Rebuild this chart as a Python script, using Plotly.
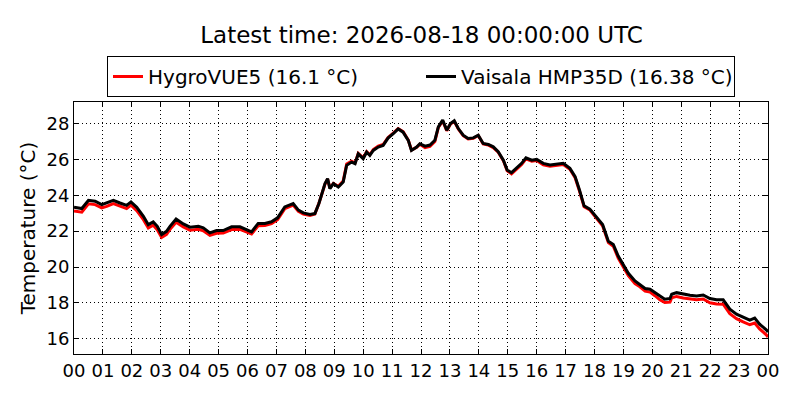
import pandas as pd
import plotly.graph_objects as go

# hours after 2026-08-17 00:00 UTC
hours = [0.00, 0.27, 0.50, 0.73, 0.96, 1.13, 1.36, 1.59, 1.82, 1.97, 2.17, 2.40, 2.57, 2.74, 2.88,
         3.03, 3.20, 3.32, 3.53, 3.78, 4.01, 4.30, 4.47, 4.70, 4.93, 5.16, 5.45, 5.74, 6.03, 6.14,
         6.37, 6.60, 6.83, 7.04, 7.29, 7.58, 7.76, 7.93, 8.16, 8.33, 8.47, 8.59, 8.68, 8.77, 8.85,
         8.97, 9.14, 9.31, 9.43, 9.60, 9.72, 9.83, 10.00, 10.12, 10.23, 10.35, 10.52, 10.69, 10.86,
         11.04, 11.21, 11.38, 11.56, 11.67, 11.85, 11.96, 12.14, 12.31, 12.48, 12.60, 12.75, 12.89,
         13.02, 13.15, 13.29, 13.46, 13.63, 13.81, 13.98, 14.15, 14.33, 14.50, 14.67, 14.85, 14.98,
         15.13, 15.31, 15.48, 15.63, 15.83, 16.00, 16.23, 16.46, 16.69, 16.92, 17.15, 17.33, 17.48,
         17.64, 17.84, 18.07, 18.28, 18.48, 18.65, 18.82, 19.00, 19.17, 19.40, 19.57, 19.75, 19.92,
         20.09, 20.26, 20.43, 20.61, 20.67, 20.84, 21.07, 21.30, 21.53, 21.76, 21.99, 22.22, 22.45,
         22.68, 22.91, 23.14, 23.37, 23.54, 23.71, 23.94, 24.00]

hygrovue = [23.13, 23.06, 23.52, 23.48, 23.30, 23.38, 23.54, 23.40, 23.26, 23.45, 23.14, 22.64, 22.18,
            22.33, 22.08, 21.65, 21.82, 22.10, 22.50, 22.24, 22.05, 22.10, 22.02, 21.76, 21.88, 21.89,
            22.09, 22.10, 21.92, 21.84, 22.30, 22.31, 22.42, 22.64, 23.25, 23.45, 23.10, 22.95, 22.88,
            22.95, 23.55, 24.22, 24.62, 24.90, 24.40, 24.66, 24.50, 24.80, 25.75, 25.90, 25.80, 26.33,
            26.08, 26.43, 26.26, 26.55, 26.74, 26.83, 27.22, 27.46, 27.72, 27.55, 27.08, 26.52, 26.68,
            26.84, 26.66, 26.72, 27.00, 27.78, 28.14, 27.60, 27.97, 28.12, 27.70, 27.32, 27.14, 27.18,
            27.33, 26.86, 26.80, 26.66, 26.40, 25.92, 25.36, 25.20, 25.44, 25.72, 26.03, 25.90, 25.94,
            25.70, 25.62, 25.66, 25.72, 25.45, 24.98, 24.24, 23.36, 23.18, 22.74, 22.30, 21.36, 21.16,
            20.50, 20.03, 19.52, 19.08, 18.90, 18.65, 18.60, 18.40, 18.17, 18.02, 18.04, 18.28, 18.36,
            18.27, 18.22, 18.17, 18.22, 18.01, 17.94, 17.93, 17.40, 17.12, 16.94, 16.78, 16.88, 16.55,
            16.22, 16.10]

vaisala = [23.33, 23.26, 23.72, 23.67, 23.48, 23.57, 23.72, 23.57, 23.44, 23.63, 23.33, 22.83, 22.36,
           22.51, 22.27, 21.81, 21.99, 22.27, 22.68, 22.40, 22.22, 22.27, 22.18, 21.90, 22.03, 22.03,
           22.24, 22.24, 22.05, 21.96, 22.43, 22.43, 22.52, 22.74, 23.35, 23.54, 23.17, 23.02, 22.93,
           22.98, 23.54, 24.19, 24.65, 24.93, 24.37, 24.65, 24.46, 24.74, 25.67, 25.85, 25.76, 26.31,
           26.04, 26.41, 26.22, 26.50, 26.69, 26.78, 27.19, 27.43, 27.70, 27.52, 27.06, 26.50, 26.69,
           26.87, 26.74, 26.80, 27.07, 27.81, 28.19, 27.63, 28.00, 28.15, 27.72, 27.35, 27.17, 27.20,
           27.35, 26.89, 26.83, 26.70, 26.43, 25.96, 25.41, 25.26, 25.50, 25.78, 26.09, 25.96, 26.00,
           25.78, 25.69, 25.72, 25.78, 25.50, 25.04, 24.30, 23.41, 23.23, 22.80, 22.37, 21.44, 21.26,
           20.61, 20.15, 19.65, 19.22, 19.04, 18.80, 18.76, 18.57, 18.35, 18.20, 18.24, 18.48, 18.57,
           18.48, 18.43, 18.39, 18.44, 18.24, 18.17, 18.17, 17.65, 17.37, 17.19, 17.04, 17.15, 16.81,
           16.50, 16.38]

start = pd.Timestamp("2026-08-17 00:00:00")
times = [start + pd.Timedelta(hours=h) for h in hours]

font = "DejaVu Sans"
fig = go.Figure()
fig.add_trace(go.Scatter(x=times, y=hygrovue, mode="lines", name="HygroVUE5 (16.1 °C)",
                         line=dict(color="red", width=3)))
fig.add_trace(go.Scatter(x=times, y=vaisala, mode="lines", name="Vaisala HMP35D (16.38 °C)",
                         line=dict(color="black", width=3)))

# the page adds an 8px offset, so margins are shifted to compensate
fig.update_layout(
    width=800, height=400,
    margin=dict(l=66, r=40, t=94, b=54),
    paper_bgcolor="white", plot_bgcolor="white",
    font=dict(family=font, size=17, color="black"),
    title=dict(text="Latest time: 2026-08-18 00:00:00 UTC", x=0.517, xanchor="center",
               y=0.9325, yanchor="middle", font=dict(size=23)),
    legend=dict(orientation="h", x=0.5, xanchor="center", y=1.1825, yanchor="top",
                bordercolor="black", borderwidth=1, font=dict(size=20),
                itemwidth=30, entrywidth=268, tracegroupgap=0),
    showlegend=True,
)
fig.update_xaxes(
    type="date", range=[start, start + pd.Timedelta(hours=24)],
    dtick=3600000, tickformat="%H", tick0=start,
    showline=True, linecolor="black", linewidth=1, mirror="allticks",
    ticks="inside", ticklen=5, tickcolor="black",
    showgrid=True, gridcolor="black", gridwidth=0.6, griddash="1px,3px",
    zeroline=False, tickfont=dict(size=18),
)
fig.update_yaxes(
    range=[15.15, 29.2], tickvals=[16, 18, 20, 22, 24, 26, 28],
    title=dict(text="Temperature (°C)", standoff=5),
    showline=True, linecolor="black", linewidth=1, mirror="allticks",
    ticks="inside", ticklen=5, tickcolor="black",
    showgrid=True, gridcolor="black", gridwidth=0.6, griddash="1px,3px",
    zeroline=False, tickfont=dict(size=18),
)

fig.write_html("out.html")
